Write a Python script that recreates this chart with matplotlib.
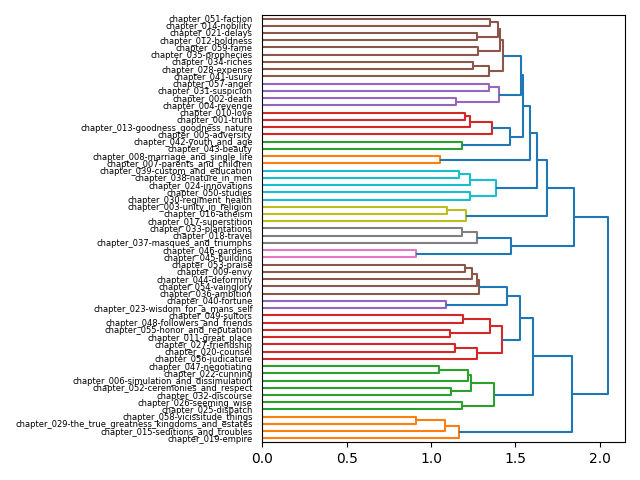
import numpy as np
import matplotlib
matplotlib.use("Agg")
import matplotlib.pyplot as plt
from matplotlib.collections import LineCollection

# leaf labels, top to bottom as they appear
labels = [
    "chapter_051-faction", "chapter_014-nobility", "chapter_021-delays",
    "chapter_012-boldness", "chapter_059-fame", "chapter_035-prophecies",
    "chapter_034-riches", "chapter_028-expense", "chapter_041-usury",
    "chapter_057-anger", "chapter_031-suspicion", "chapter_002-death",
    "chapter_004-revenge", "chapter_010-love", "chapter_001-truth",
    "chapter_013-goodness_goodness_nature", "chapter_005-adversity",
    "chapter_042-youth_and_age", "chapter_043-beauty",
    "chapter_008-marriage_and_single_life", "chapter_007-parents_and_children",
    "chapter_039-custom_and_education", "chapter_038-nature_in_men",
    "chapter_024-innovations", "chapter_050-studies",
    "chapter_030-regiment_health", "chapter_003-unity_in_religion",
    "chapter_016-atheism", "chapter_017-superstition",
    "chapter_033-plantations", "chapter_018-travel",
    "chapter_037-masques_and_triumphs", "chapter_046-gardens",
    "chapter_045-building", "chapter_053-praise", "chapter_009-envy",
    "chapter_044-deformity", "chapter_054-vainglory", "chapter_036-ambition",
    "chapter_040-fortune", "chapter_023-wisdom_for_a_mans_self",
    "chapter_049-suitors", "chapter_048-followers_and_friends",
    "chapter_055-honor_and_reputation", "chapter_011-great_place",
    "chapter_027-friendship", "chapter_020-counsel", "chapter_056-judicature",
    "chapter_047-negotiating", "chapter_022-cunning",
    "chapter_006-simulation_and_dissimulation",
    "chapter_052-ceremonies_and_respect", "chapter_032-discourse",
    "chapter_026-seeming_wise", "chapter_025-dispatch",
    "chapter_058-vicissitude_things",
    "chapter_029-the_true_greatness_kingdoms_and_estates",
    "chapter_015-seditions_and_troubles", "chapter_019-empire",
]

# merges: (child a, child b); ids < 59 are leaves, 59+k is merge k
merge_a = [0, 2, 59, 4, 61, 6, 64, 63, 9, 11, 67, 66, 13, 71, 72, 17, 73, 70,
           19, 76, 21, 79, 24, 80, 78, 26, 84, 83, 29, 87, 32, 88, 86, 34, 92,
           93, 94, 39, 95, 41, 43, 98, 45, 101, 100, 97, 48, 105, 51, 106, 53,
           108, 104, 55, 112, 113, 111, 91]
merge_b = [1, 3, 60, 5, 62, 7, 8, 65, 10, 12, 68, 69, 14, 15, 16, 18, 74, 75,
           20, 77, 22, 23, 25, 81, 82, 27, 28, 85, 30, 31, 33, 89, 90, 35, 36,
           37, 38, 40, 96, 42, 44, 99, 46, 47, 102, 103, 49, 50, 52, 107, 54,
           109, 110, 56, 57, 58, 114, 115]
heights = [1.348, 1.270, 1.397, 1.277, 1.411, 1.248, 1.343, 1.424,
           1.342, 1.148, 1.401, 1.531, 1.204, 1.230, 1.360, 1.182,
           1.467, 1.543, 1.052, 1.588, 1.166, 1.233, 1.230, 1.386,
           1.631, 1.097, 1.206, 1.686, 1.184, 1.273, 0.913, 1.471,
           1.845, 1.200, 1.241, 1.270, 1.284, 1.091, 1.453, 1.190,
           1.111, 1.352, 1.141, 1.271, 1.419, 1.526, 1.048, 1.218,
           1.117, 1.234, 1.186, 1.374, 1.605, 0.913, 1.085, 1.164,
           1.835, 2.049]

n = len(labels)
threshold = 0.7 * max(heights)
palette = ["C1", "C2", "C3", "C4", "C5", "C6", "C7", "C8", "C9"]

# positions: leaves bottom to top at 5, 15, 25, ...
pos = {i: (n - 1 - i) * 10 + 5 for i in range(n)}
hgt = {i: 0.0 for i in range(n)}
for k, (a, b, h) in enumerate(zip(merge_a, merge_b, heights)):
    pos[n + k] = (pos[a] + pos[b]) / 2
    hgt[n + k] = h

# colour clusters below threshold, in bottom-to-top order like scipy
node_color = {}
def assign(node, col):
    node_color[node] = col
    if node >= n:
        k = node - n
        assign(merge_a[k], col)
        assign(merge_b[k], col)

counter = [0]
def walk(node):
    if node < n:
        return
    k = node - n
    if heights[k] < threshold:
        assign(node, palette[counter[0] % len(palette)])
        counter[0] += 1
        return
    kids = sorted([merge_a[k], merge_b[k]], key=lambda c: pos[c])
    for c in kids:
        walk(c)

walk(n + len(heights) - 1)

fig, ax = plt.subplots(figsize=(6.4, 4.8), dpi=100)
segs, cols = [], []
for k, (a, b, h) in enumerate(zip(merge_a, merge_b, heights)):
    segs.append([(hgt[a], pos[a]), (h, pos[a]), (h, pos[b]), (hgt[b], pos[b])])
    cols.append(node_color.get(n + k, "C0"))
ax.add_collection(LineCollection(segs, colors=cols, linewidths=1.5))

ax.set_xlim(0, max(heights) * 1.05)
ax.set_ylim(0, n * 10)
ax.set_yticks([pos[i] for i in range(n)])
ax.set_yticklabels(labels, fontsize=6)
# tick marks hidden, but they keep their room
for line in ax.get_yticklines():
    line.set_visible(False)
ax.set_xticks([0.0, 0.5, 1.0, 1.5, 2.0])

plt.subplots_adjust(left=0.41, right=0.977, top=0.969, bottom=0.079)
plt.savefig("out.png")
